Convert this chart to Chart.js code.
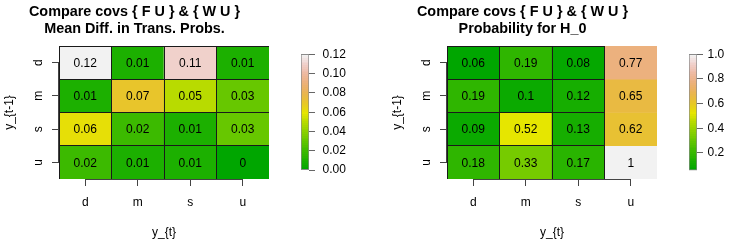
<!DOCTYPE html>
<html>
<head>
<meta charset="utf-8">
<script src="https://cdn.jsdelivr.net/npm/chart.js@4.4.1/dist/chart.umd.min.js"></script>
<style>
html,body{margin:0;padding:0;background:#fff;}
#wrap{position:relative;width:731px;height:242px;overflow:hidden;background:#fff;}
canvas{position:absolute;top:0;}
</style>
</head>
<body>
<div id="wrap">
<canvas id="hm1" width="328" height="242" style="left:0px"></canvas>
<canvas id="cb1" width="75" height="242" style="left:290px"></canvas>
<canvas id="hm2" width="328" height="242" style="left:388px"></canvas>
<canvas id="cb2" width="53" height="242" style="left:678px"></canvas>
</div>
<script>
// ---------- data ----------
const xCategories = ['d', 'm', 's', 'u'];          // y_{t}
const yCategories = ['d', 'm', 's', 'u'];          // y_{t-1}, top to bottom
const meanDiff = [                                  // rows follow yCategories
  [0.12, 0.01, 0.11, 0.01],
  [0.01, 0.07, 0.05, 0.03],
  [0.06, 0.02, 0.01, 0.03],
  [0.02, 0.01, 0.01, 0]
];
const probH0 = [
  [0.06, 0.19, 0.08, 0.77],
  [0.19, 0.1, 0.12, 0.65],
  [0.09, 0.52, 0.13, 0.62],
  [0.18, 0.33, 0.17, 1]
];
const meanDiffLegendTicks = [0, 0.02, 0.04, 0.06, 0.08, 0.10, 0.12];
const probH0LegendTicks = [0.2, 0.4, 0.6, 0.8, 1.0];
const title1 = ['Compare covs { F U } & { W U }', 'Mean Diff. in Trans. Probs.'];
const title2 = ['Compare covs { F U } & { W U }', 'Probability for H_0'];
const xAxisTitle = 'y_{t}';
const yAxisTitle = 'y_{t-1}';

// ---------- colours (R terrain.colors, 64 levels) ----------
const FONT = '"Liberation Sans", Arial, Helvetica, sans-serif';
Chart.defaults.font.family = FONT;
Chart.defaults.color = '#000';

function hsv(h, s, v) {
  let hh = h * 6; if (hh >= 6) hh = 0;
  const i = Math.floor(hh + 1e-9), f = Math.max(0, hh - i);
  const p = v * (1 - s), q = v * (1 - f * s), t = v * (1 - (1 - f) * s);
  let r, g, b;
  switch (((i % 6) + 6) % 6) {
    case 0: r = v; g = t; b = p; break;
    case 1: r = q; g = v; b = p; break;
    case 2: r = p; g = v; b = t; break;
    case 3: r = p; g = q; b = v; break;
    case 4: r = t; g = p; b = v; break;
    default: r = v; g = p; b = q;
  }
  const c = x => Math.round(x * 255);
  return `rgb(${c(r)},${c(g)},${c(b)})`;
}
function terrainColors(n) {
  const seq = (a, b, len) => Array.from({length: len}, (_, i) => len === 1 ? a : a + (b - a) * i / (len - 1));
  const k = Math.floor(n / 2);
  const out = [];
  const h1 = seq(4/12, 2/12, k), s1 = seq(1, 1, k), v1 = seq(0.65, 0.9, k);
  for (let i = 0; i < k; i++) out.push(hsv(h1[i], s1[i], v1[i]));
  const m = n - k + 1;
  const h2 = seq(2/12, 0, m).slice(1), s2 = seq(1, 0, m).slice(1), v2 = seq(0.9, 0.95, m).slice(1);
  for (let i = 0; i < m - 1; i++) out.push(hsv(h2[i], s2[i], v2[i]));
  return out;
}
const NLEV = 64;
const PALETTE = terrainColors(NLEV);
function colorFor(v, zmin, zmax) {
  const idx = Math.max(0, Math.min(NLEV - 1, Math.floor((v - zmin) / (zmax - zmin) * NLEV)));
  return PALETTE[idx];
}

// ---------- heatmap ----------
function heatmap(id, matrix, titleLines, outlined) {
  const vals = matrix.flat();
  const zmin = Math.min(...vals), zmax = Math.max(...vals);
  const nRows = yCategories.length;
  const datasets = yCategories.map((rowLabel, r) => {
    const level = nRows - 1 - r;
    return {
      label: rowLabel,
      data: matrix[r].map(() => [level, level + 1]),
      values: matrix[r],
      backgroundColor: matrix[r].map(v => colorFor(v, zmin, zmax)),
      borderWidth: 0,
      categoryPercentage: 1,
      barPercentage: 1,
      grouped: false
    };
  });

  const cellPlugin = {
    id: 'cells',
    afterDatasetsDraw(chart) {
      const ctx = chart.ctx;
      const ca = chart.chartArea;
      ctx.save();
      ctx.beginPath();
      ctx.rect(ca.left, ca.top, ca.right - ca.left, ca.bottom - ca.top);
      ctx.clip();
      ctx.strokeStyle = '#1a1a1a';
      ctx.lineWidth = 1;
      chart.data.datasets.forEach((ds, di) => {
        chart.getDatasetMeta(di).data.forEach((bar, ci) => {
          if (!outlined(ds.values[ci])) return;
          const p = bar.getProps(['x', 'y', 'base', 'width'], true);
          const x0 = Math.floor(p.x - p.width / 2) + 0.5, x1 = Math.floor(p.x + p.width / 2) + 0.5;
          const y0 = Math.floor(Math.min(p.y, p.base)) + 0.5, y1 = Math.floor(Math.max(p.y, p.base)) + 0.5;
          ctx.strokeRect(x0, y0, x1 - x0, y1 - y0);
        });
      });
      ctx.fillStyle = '#000';
      ctx.font = '12px ' + FONT;
      ctx.textAlign = 'center';
      ctx.textBaseline = 'middle';
      chart.data.datasets.forEach((ds, di) => {
        chart.getDatasetMeta(di).data.forEach((bar, ci) => {
          const p = bar.getProps(['x', 'y', 'base'], true);
          ctx.fillText(String(ds.values[ci]), p.x, (p.y + p.base) / 2 + 1);
        });
      });
      ctx.restore();
    },
    afterDraw(chart) {
      const ctx = chart.ctx, ca = chart.chartArea;
      const xs = chart.scales.x, ys = chart.scales.y;
      const al = v => Math.round(v - 0.5) + 0.5;
      ctx.save();
      ctx.strokeStyle = '#444';
      ctx.lineWidth = 1;
      ctx.beginPath();
      ctx.moveTo(al(xs.getPixelForTick(0)), Math.floor(ca.bottom) + 0.5);
      ctx.lineTo(al(xs.getPixelForTick(xs.ticks.length - 1)), Math.floor(ca.bottom) + 0.5);
      ctx.moveTo(Math.floor(ca.left) - 0.5, al(ys.getPixelForTick(0)));
      ctx.lineTo(Math.floor(ca.left) - 0.5, al(ys.getPixelForTick(ys.ticks.length - 1)));
      ctx.stroke();
      ctx.restore();
    }
  };

  return new Chart(document.getElementById(id), {
    type: 'bar',
    data: { labels: xCategories, datasets },
    plugins: [cellPlugin],
    options: {
      responsive: false,
      animation: false,
      events: [],
      layout: { padding: { left: 0, right: 59, top: 0, bottom: 0 } },
      plugins: {
        legend: { display: false },
        tooltip: { enabled: false },
        title: {
          display: true, text: titleLines, color: '#000',
          font: { size: 14.4, weight: 'bold', lineHeight: '17px' },
          padding: { top: 4, bottom: 8 }
        }
      },
      scales: {
        x: {
          type: 'category', offset: true,
          grid: { display: true, drawOnChartArea: false, drawTicks: true, tickLength: 7, color: '#444', offset: false },
          border: { display: false },
          ticks: { color: '#000', font: { size: 12 }, padding: 9.5, maxRotation: 0, autoSkip: false },
          title: { display: true, text: xAxisTitle, color: '#000', font: { size: 12 }, padding: { top: 0, bottom: 2.6 } },
          afterFit: s => { s.height = 63; }
        },
        y: {
          type: 'linear', min: 0, max: nRows,
          grid: { display: true, drawOnChartArea: false, drawTicks: true, tickLength: 7, color: '#444' },
          border: { display: false },
          afterBuildTicks: s => {
            s.ticks = yCategories.map((_, r) => ({ value: r + 0.5 }));
          },
          ticks: {
            callback: v => yCategories[nRows - 1 - Math.floor(v)],
            minRotation: 90, maxRotation: 90, crossAlign: 'center',
            padding: 8, color: '#000', font: { size: 12 }
          },
          title: { display: true, text: yAxisTitle, color: '#000', font: { size: 12 }, padding: { top: 2.6, bottom: 0 } },
          afterFit: s => { s.width = 59; }
        }
      }
    }
  });
}

// ---------- colour legend ----------
function colorbar(id, matrix, legendTicks, digits, labelPad, canvasWidth) {
  const vals = matrix.flat();
  const zmin = Math.min(...vals), zmax = Math.max(...vals);
  const pad = (zmax - zmin) * 0.02;
  return new Chart(document.getElementById(id), {
    type: 'bar',
    data: {
      labels: [''],
      datasets: [{
        data: [[zmin, zmax]],
        backgroundColor: c => {
          const chart = c.chart;
          if (!chart.chartArea || !chart.scales.y) return PALETTE[0];
          const ys = chart.scales.y;
          const y0 = ys.getPixelForValue(zmin), y1 = ys.getPixelForValue(zmax);
          const g = chart.ctx.createLinearGradient(0, y0, 0, y1);
          for (let i = 0; i < NLEV; i++) {
            g.addColorStop(i / NLEV, PALETTE[i]);
            g.addColorStop((i + 1) / NLEV, PALETTE[i]);
          }
          return g;
        },
        borderColor: '#8a8a8a',
        borderWidth: 1,
        borderSkipped: false,
        categoryPercentage: 1,
        barPercentage: 1
      }]
    },
    options: {
      responsive: false,
      animation: false,
      events: [],
      layout: { padding: { left: 11, right: 0, top: 52, bottom: 69.5 } },
      plugins: { legend: { display: false }, tooltip: { enabled: false }, title: { display: false } },
      scales: {
        x: { display: false },
        y: {
          position: 'right', bounds: 'data',
          min: zmin - pad, max: zmax + pad,
          grid: { display: true, drawOnChartArea: false, drawTicks: true, tickLength: 6, color: '#666' },
          border: { display: false },
          afterBuildTicks: s => { s.ticks = legendTicks.map(v => ({ value: v })); },
          ticks: { callback: v => Number(v).toFixed(digits), padding: labelPad, color: '#000', font: { size: 12 } },
          afterFit: s => { s.width = canvasWidth - 19; }
        }
      }
    }
  });
}

heatmap('hm1', meanDiff, title1, () => true);
heatmap('hm2', probH0, title2, v => v < 0.6);
colorbar('cb1', meanDiff, meanDiffLegendTicks, 2, 7.5, 75);
colorbar('cb2', probH0, probH0LegendTicks, 1, 4.5, 53);
</script>
</body>
</html>
